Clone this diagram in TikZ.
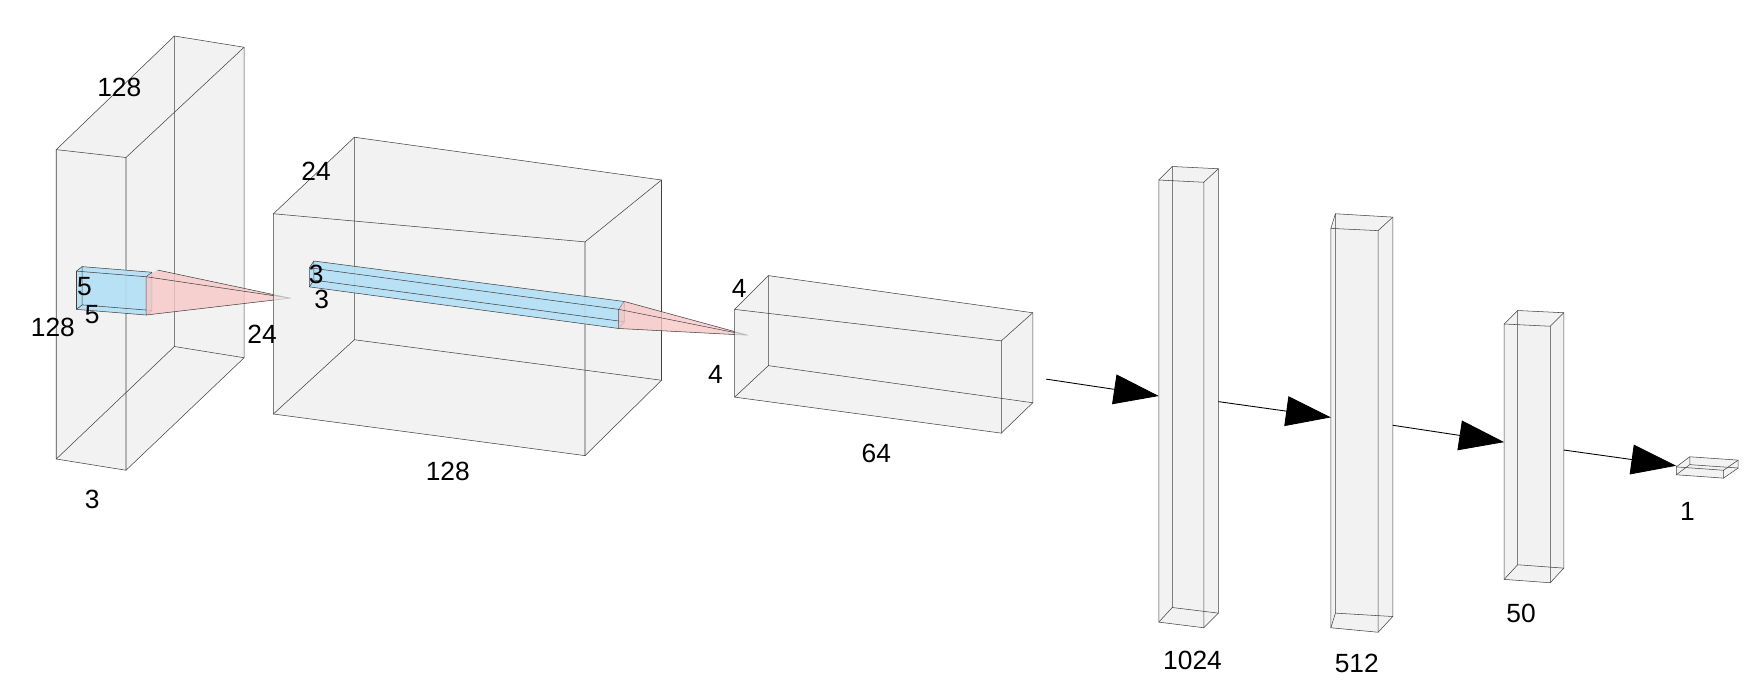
\documentclass[tikz,border=0pt]{standalone}
\usepackage{fontspec}
\setmainfont{Liberation Sans}
\usetikzlibrary{arrows.meta}
\definecolor{box_fill}{rgb}{0.93, 0.93, 0.93}
\definecolor{kern_blue}{rgb}{0.70, 0.88, 0.97}
\definecolor{kern_pink}{rgb}{0.97, 0.78, 0.78}

% cuboid: front face TL,TR,BR,BL then back face TL,TR,BR,BL
\newcommand{\cuboid}[9]{%
  \fill[#9] #1 -- #5 -- #6 -- #7 -- #3 -- #4 -- cycle;
  \draw[edge] #1 -- #2 -- #3 -- #4 -- cycle;
  \draw[edge] #5 -- #6 -- #7 -- #8 -- cycle;
  \draw[edge] #1 -- #5 #2 -- #6 #3 -- #7 #4 -- #8;
}

\tikzset{
  edge/.style={draw=black!75, line width=0.3pt},
  dim/.style={font=\fontsize{15}{17}\selectfont, inner sep=1pt},
  flow/.style={line width=0.5pt, -{Triangle[length=0.9cm, width=0.6cm]}}
}

\begin{document}
\begin{tikzpicture}[x=0.0225cm, y=-0.0225cm]
    \useasboundingbox (0,0) rectangle (1568,622);

    % Input volume 128 x 128 x 3
    \cuboid{(50,133)}{(112,140)}{(112,418)}{(50,408)}{(155,32)}{(217,42)}{(217,318)}{(155,308)}{box_fill, opacity=0.7}
    % Kernel 5 x 5 and its projection
    \cuboid{(68,241)}{(130,246)}{(130,280)}{(68,275)}{(73,237)}{(135,242)}{(135,276)}{(73,271)}{kern_blue, opacity=0.9}
    \coordinate (apex1) at (258,265);
    \fill[kern_pink, opacity=0.8] (130,246) -- (140,240) -- (apex1) -- cycle;
    \fill[kern_pink, opacity=0.8] (130,246) -- (apex1) -- (130,280) -- cycle;
    \draw[edge] (130,246) -- (apex1) -- (130,280) (140,240) -- (apex1);

    % Conv volume 24 x 128
    \cuboid{(243,190)}{(520,215)}{(520,405)}{(243,368)}{(315,122)}{(588,160)}{(588,338)}{(315,302)}{box_fill, opacity=0.7}
    % Kernel 3 x 3 and its projection
    \cuboid{(275,238)}{(550,275)}{(550,292)}{(275,255)}{(279,232)}{(555,268)}{(555,286)}{(279,249)}{kern_blue, opacity=0.9}
    \coordinate (apex2) at (665,298);
    \fill[kern_pink, opacity=0.8] (550,275) -- (555,268) -- (apex2) -- cycle;
    \fill[kern_pink, opacity=0.8] (550,275) -- (apex2) -- (550,292) -- cycle;
    \draw[edge] (550,275) -- (apex2) -- (550,292) (555,268) -- (apex2);

    % Conv volume 4 x 4 x 64
    \cuboid{(653,275)}{(890,303)}{(890,385)}{(653,353)}{(683,245)}{(918,278)}{(918,358)}{(683,325)}{box_fill, opacity=0.7}

    % Dense layers
    \cuboid{(1030,160)}{(1070,162)}{(1070,558)}{(1030,553)}{(1042,148)}{(1083,150)}{(1083,545)}{(1042,540)}{box_fill, opacity=0.7}
    \cuboid{(1183,203)}{(1225,205)}{(1225,562)}{(1183,558)}{(1187,190)}{(1238,193)}{(1238,548)}{(1187,545)}{box_fill, opacity=0.7}
    \cuboid{(1337,288)}{(1378,290)}{(1378,518)}{(1337,515)}{(1349,276)}{(1390,278)}{(1390,505)}{(1349,502)}{box_fill, opacity=0.7}
    \cuboid{(1490,415)}{(1532,418)}{(1532,425)}{(1490,422)}{(1502,406)}{(1545,409)}{(1545,416)}{(1502,413)}{box_fill, opacity=0.7}

    % Connections between layers
    \coordinate (out3) at (930,337);   \coordinate (in4) at (1030,352);
    \coordinate (out4) at (1083,357);  \coordinate (in5) at (1183,371);
    \coordinate (out5) at (1238,378);  \coordinate (in6) at (1337,393);
    \coordinate (out6) at (1390,400);  \coordinate (in7) at (1490,414);
    \foreach \a/\b in {out3/in4, out4/in5, out5/in6, out6/in7}
      \draw[flow] (\a) -- (\b);

    % Dimension labels
    \node[dim] (l128a) at (106,78) {128};
    \node[dim] (l5a) at (75,255) {5};
    \node[dim] (l5b) at (82,280) {5};
    \node[dim] (l128b) at (47,291) {128};
    \node[dim] (l24a) at (233,297) {24};
    \node[dim] (l3a) at (82,444) {3};
    \node[dim] (l24b) at (281,152) {24};
    \node[dim] (l3b) at (281,244) {3};
    \node[dim] (l3c) at (286,266) {3};
    \node[dim] (l128c) at (398,419) {128};
    \node[dim] (l4a) at (657,256) {4};
    \node[dim] (l4b) at (636,333) {4};
    \node[dim] (l64) at (779,403) {64};
    \node[dim] (l1024) at (1060,587) {1024};
    \node[dim] (l512) at (1206,590) {512};
    \node[dim] (l50) at (1352,545) {50};
    \node[dim] (l1) at (1500,455) {1};

  \end{tikzpicture}
\end{document}
